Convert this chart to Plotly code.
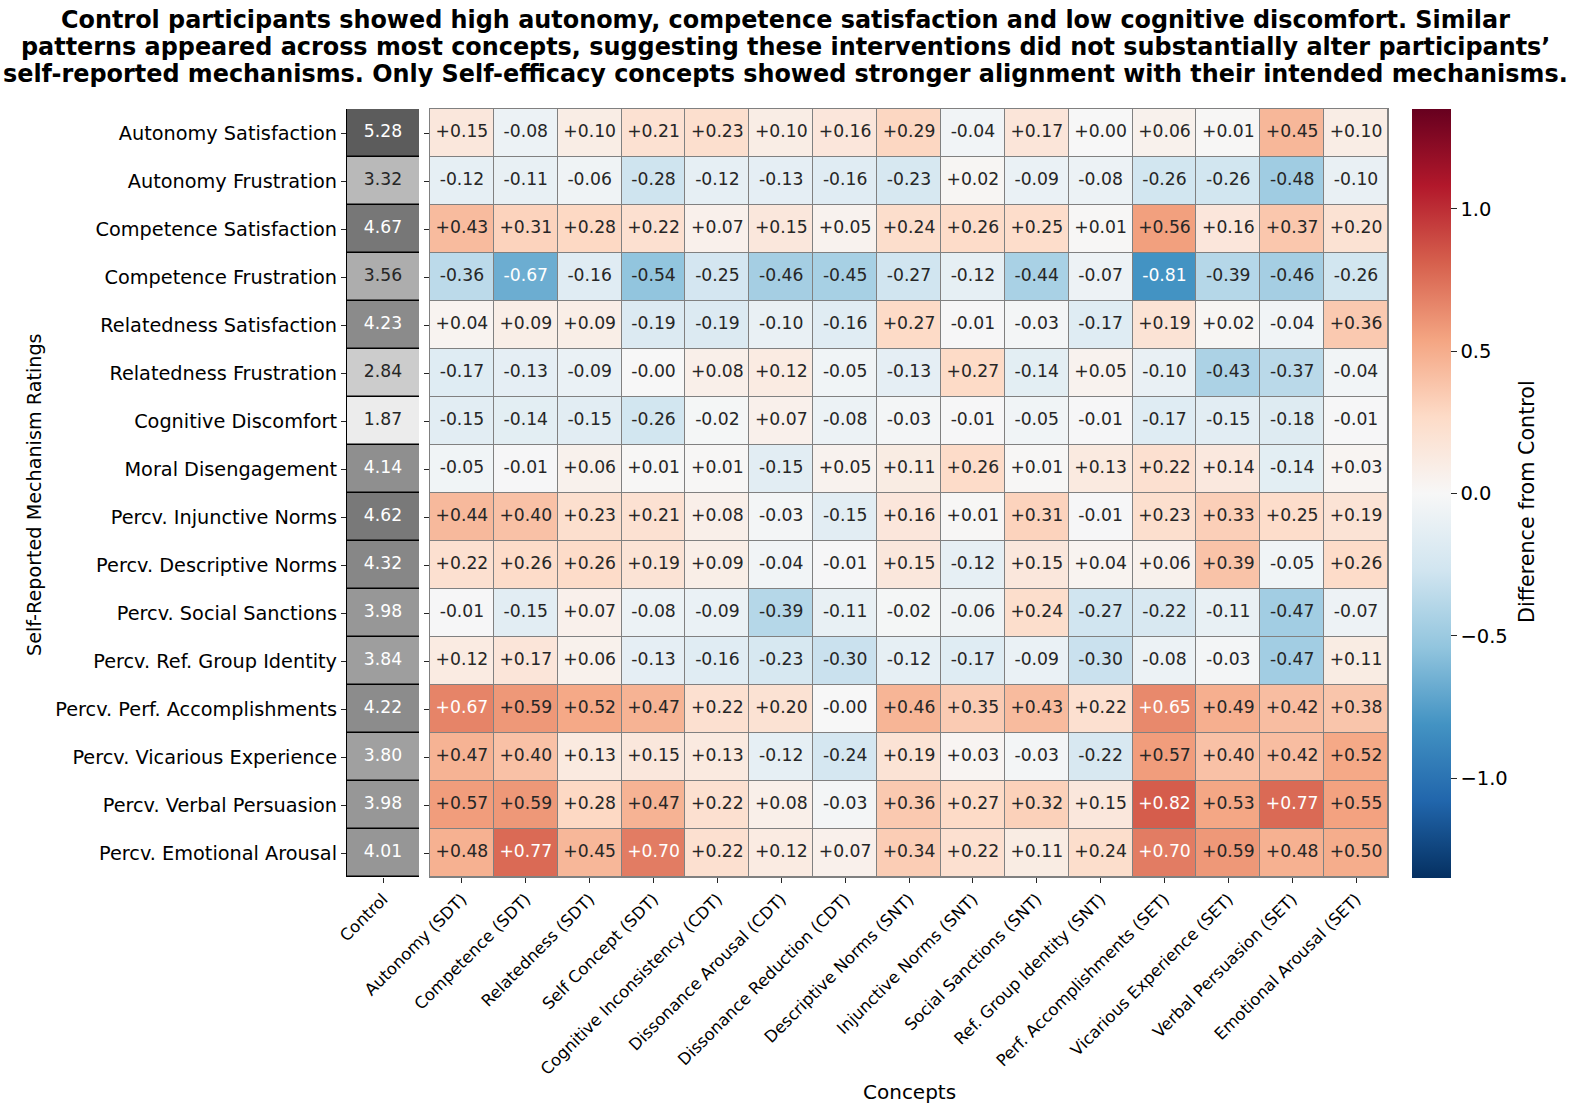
import plotly.graph_objects as go

# ---------------- data ----------------
rows = [
    "Autonomy Satisfaction", "Autonomy Frustration", "Competence Satisfaction",
    "Competence Frustration", "Relatedness Satisfaction", "Relatedness Frustration",
    "Cognitive Discomfort", "Moral Disengagement", "Percv. Injunctive Norms",
    "Percv. Descriptive Norms", "Percv. Social Sanctions", "Percv. Ref. Group Identity",
    "Percv. Perf. Accomplishments", "Percv. Vicarious Experience",
    "Percv. Verbal Persuasion", "Percv. Emotional Arousal",
]
concepts = [
    "Autonomy (SDT)", "Competence (SDT)", "Relatedness (SDT)", "Self Concept (SDT)",
    "Cognitive Inconsistency (CDT)", "Dissonance Arousal (CDT)", "Dissonance Reduction (CDT)",
    "Descriptive Norms (SNT)", "Injunctive Norms (SNT)", "Social Sanctions (SNT)",
    "Ref. Group Identity (SNT)", "Perf. Accomplishments (SET)", "Vicarious Experience (SET)",
    "Verbal Persuasion (SET)", "Emotional Arousal (SET)",
]
control = [5.28, 3.32, 4.67, 3.56, 4.23, 2.84, 1.87, 4.14, 4.62, 4.32, 3.98, 3.84, 4.22, 3.80, 3.98, 4.01]

diff = [
    [0.15, -0.08, 0.10, 0.21, 0.23, 0.10, 0.16, 0.29, -0.04, 0.17, 0.00, 0.06, 0.01, 0.45, 0.10],
    [-0.12, -0.11, -0.06, -0.28, -0.12, -0.13, -0.16, -0.23, 0.02, -0.09, -0.08, -0.26, -0.26, -0.48, -0.10],
    [0.43, 0.31, 0.28, 0.22, 0.07, 0.15, 0.05, 0.24, 0.26, 0.25, 0.01, 0.56, 0.16, 0.37, 0.20],
    [-0.36, -0.67, -0.16, -0.54, -0.25, -0.46, -0.45, -0.27, -0.12, -0.44, -0.07, -0.81, -0.39, -0.46, -0.26],
    [0.04, 0.09, 0.09, -0.19, -0.19, -0.10, -0.16, 0.27, -0.01, -0.03, -0.17, 0.19, 0.02, -0.04, 0.36],
    [-0.17, -0.13, -0.09, -0.0, 0.08, 0.12, -0.05, -0.13, 0.27, -0.14, 0.05, -0.10, -0.43, -0.37, -0.04],
    [-0.15, -0.14, -0.15, -0.26, -0.02, 0.07, -0.08, -0.03, -0.01, -0.05, -0.01, -0.17, -0.15, -0.18, -0.01],
    [-0.05, -0.01, 0.06, 0.01, 0.01, -0.15, 0.05, 0.11, 0.26, 0.01, 0.13, 0.22, 0.14, -0.14, 0.03],
    [0.44, 0.40, 0.23, 0.21, 0.08, -0.03, -0.15, 0.16, 0.01, 0.31, -0.01, 0.23, 0.33, 0.25, 0.19],
    [0.22, 0.26, 0.26, 0.19, 0.09, -0.04, -0.01, 0.15, -0.12, 0.15, 0.04, 0.06, 0.39, -0.05, 0.26],
    [-0.01, -0.15, 0.07, -0.08, -0.09, -0.39, -0.11, -0.02, -0.06, 0.24, -0.27, -0.22, -0.11, -0.47, -0.07],
    [0.12, 0.17, 0.06, -0.13, -0.16, -0.23, -0.30, -0.12, -0.17, -0.09, -0.30, -0.08, -0.03, -0.47, 0.11],
    [0.67, 0.59, 0.52, 0.47, 0.22, 0.20, -0.0, 0.46, 0.35, 0.43, 0.22, 0.65, 0.49, 0.42, 0.38],
    [0.47, 0.40, 0.13, 0.15, 0.13, -0.12, -0.24, 0.19, 0.03, -0.03, -0.22, 0.57, 0.40, 0.42, 0.52],
    [0.57, 0.59, 0.28, 0.47, 0.22, 0.08, -0.03, 0.36, 0.27, 0.32, 0.15, 0.82, 0.53, 0.77, 0.55],
    [0.48, 0.77, 0.45, 0.70, 0.22, 0.12, 0.07, 0.34, 0.22, 0.11, 0.24, 0.70, 0.59, 0.48, 0.50],
]

cbar_ticks = [-1.0, -0.5, 0.0, 0.5, 1.0]
cbar_ticktext = ["\u22121.0", "\u22120.5", "0.0", "0.5", "1.0"]

title_lines = [
    "Control participants showed high autonomy, competence satisfaction and low cognitive discomfort. Similar",
    "patterns appeared across most concepts, suggesting these interventions did not substantially alter participants\u2019",
    "self-reported mechanisms. Only Self-efficacy concepts showed stronger alignment with their intended mechanisms.",
]

# ---------------- colour scales ----------------
RDBU = ["#67001f", "#b2182b", "#d6604d", "#f4a582", "#fddbc7", "#f7f7f7",
        "#d1e5f0", "#92c5de", "#4393c3", "#2166ac", "#053061"][::-1]
GREYS = ["#ffffff", "#f0f0f0", "#d9d9d9", "#bdbdbd", "#969696", "#737373",
         "#525252", "#252525", "#000000"]
DMIN, DMAX = -1.35, 1.35
CMIN, CMAX = 1.0, 7.0


def scale(cols):
    n = len(cols) - 1
    return [[i / n, c] for i, c in enumerate(cols)]


def hex2rgb(h):
    h = h.lstrip("#")
    return [int(h[i:i + 2], 16) / 255 for i in (0, 2, 4)]


def sample(cols, t):
    t = min(max(t, 0.0), 1.0)
    n = len(cols) - 1
    i = min(int(t * n), n - 1)
    f = t * n - i
    a, b = hex2rgb(cols[i]), hex2rgb(cols[i + 1])
    return [a[k] + (b[k] - a[k]) * f for k in range(3)]


def text_color(rgb):
    lin = [c / 12.92 if c <= 0.03928 else ((c + 0.055) / 1.055) ** 2.4 for c in rgb]
    lum = 0.2126 * lin[0] + 0.7152 * lin[1] + 0.0722 * lin[2]
    return "#262626" if lum > 0.408 else "#ffffff"


# ---------------- geometry (paper fractions) ----------------
W, H = 1571, 1114
def px(x): return x / W
def py(y): return 1 - y / H

y_dom = [py(877), py(109)]
x_ctrl = [px(347), px(419)]
x_main = [px(430), px(1388)]

FONT = "DejaVu Sans"
DARK = "#262626"

fig = go.Figure()

# Control heatmap
fig.add_trace(go.Heatmap(
    z=[[v] for v in control], x=["Control"], y=rows,
    colorscale=scale(GREYS), zmin=CMIN, zmax=CMAX, showscale=False,
    ygap=1.5, xaxis="x", yaxis="y", hoverinfo="skip",
))
fig.add_trace(go.Scatter(
    x=["Control"] * len(rows), y=rows, mode="text",
    text=[f"{v:.2f}" for v in control],
    textfont=dict(family=FONT, size=17.2,
                  color=[text_color(sample(GREYS, (v - CMIN) / (CMAX - CMIN))) for v in control]),
    xaxis="x", yaxis="y", hoverinfo="skip", showlegend=False,
))

# Main heatmap
fig.add_trace(go.Heatmap(
    z=diff, x=concepts, y=rows,
    colorscale=scale(RDBU), zmin=DMIN, zmax=DMAX,
    xgap=1, ygap=1, xaxis="x2", yaxis="y2", hoverinfo="skip",
    colorbar=dict(
        x=px(1412), xanchor="left", xref="paper",
        y=py(878), yanchor="bottom", len=(878 - 109) / H, lenmode="fraction",
        thickness=39, thicknessmode="pixels", outlinewidth=0, xpad=0, ypad=0,
        tickvals=cbar_ticks, ticktext=cbar_ticktext, ticks="outside", ticklen=6,
        tickcolor=DARK, tickfont=dict(family=FONT, size=19.5, color="black"),
    ),
))
cx, cy, ct, cc = [], [], [], []
for i, r in enumerate(rows):
    for j, c in enumerate(concepts):
        v = diff[i][j]
        cx.append(c)
        cy.append(r)
        ct.append(f"{v:+.2f}")
        cc.append(text_color(sample(RDBU, (v - DMIN) / (DMAX - DMIN))))
fig.add_trace(go.Scatter(
    x=cx, y=cy, mode="text", text=ct,
    textfont=dict(family=FONT, size=17.2, color=cc),
    xaxis="x2", yaxis="y2", hoverinfo="skip", showlegend=False,
))

axis_common = dict(showgrid=False, zeroline=False, ticks="outside", ticklen=5,
                   tickcolor=DARK, tickwidth=1, automargin=False)

annotations = []
for k, line in enumerate(title_lines):
    annotations.append(dict(
        text="<b>" + line + "</b>", x=px(785), y=py(20 + 27 * k), xref="paper", yref="paper",
        xanchor="center", yanchor="middle", showarrow=False,
        font=dict(family=FONT, size=23.9, color="black")))
annotations += [
    dict(text="Concepts", x=px(909), y=py(1092), xref="paper", yref="paper",
         xanchor="center", yanchor="middle", showarrow=False,
         font=dict(family=FONT, size=20, color="black")),
    dict(text="Self-Reported Mechanism Ratings", x=px(34), y=py(495), xref="paper", yref="paper",
         xanchor="center", yanchor="middle", showarrow=False, textangle=-90,
         font=dict(family=FONT, size=19.2, color="black")),
    dict(text="Difference from Control", x=px(1527), y=py(502), xref="paper", yref="paper",
         xanchor="center", yanchor="middle", showarrow=False, textangle=-90,
         font=dict(family=FONT, size=20.7, color="black")),
]

fig.update_layout(
    width=W, height=H,
    margin=dict(l=0, r=0, t=0, b=0, autoexpand=False),
    paper_bgcolor="white", plot_bgcolor="white",
    font=dict(family=FONT, color="black"),
    showlegend=False,
    xaxis=dict(domain=x_ctrl, anchor="y", tickangle=-45, range=[-0.5, 0.5],
               tickfont=dict(family=FONT, size=16.5, color="black"), **axis_common),
    yaxis=dict(domain=y_dom, anchor="x", range=[len(rows) - 0.5, -0.5],
               tickfont=dict(family=FONT, size=19.3, color="black"),
               showline=True, linecolor="black", linewidth=1.2, **axis_common),
    xaxis2=dict(domain=x_main, anchor="y2", tickangle=-45, range=[-0.5, len(concepts) - 0.5],
                tickfont=dict(family=FONT, size=16.5, color="black"),
                showline=True, mirror=True, linecolor="#808080", linewidth=1, **axis_common),
    yaxis2=dict(domain=y_dom, anchor="x2", range=[len(rows) - 0.5, -0.5],
                showticklabels=False,
                showline=True, mirror=True, linecolor="#808080", linewidth=1, **axis_common),
    shapes=[
        dict(type="rect", xref="x domain", yref="y domain", x0=0, x1=1, y0=0, y1=1,
             fillcolor="black", line=dict(width=0), layer="below"),
        dict(type="rect", xref="x2 domain", yref="y2 domain", x0=0, x1=1, y0=0, y1=1,
             fillcolor="#808080", line=dict(width=0), layer="below"),
    ],
    annotations=annotations,
)

fig.write_html("out.html", config={"displayModeBar": False},
               post_script="document.body.style.margin='0';document.body.style.overflow='hidden';")
